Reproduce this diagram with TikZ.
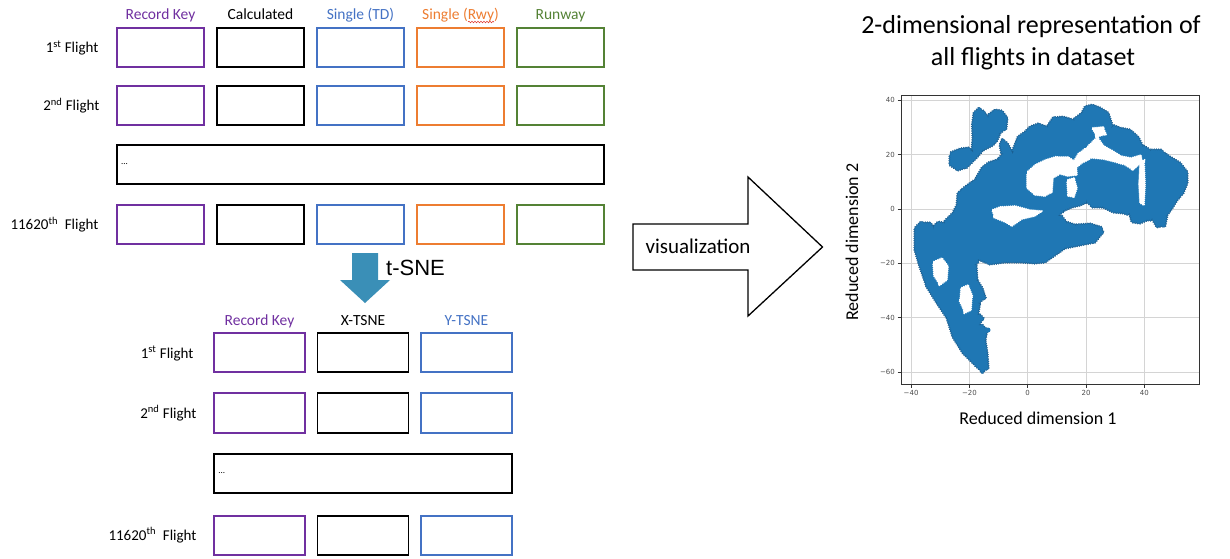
\documentclass[tikz,border=0pt]{standalone}
\usepackage{fontspec}
\setmainfont{Carlito}
\newfontfamily\tsnefont{Liberation Sans}
\newfontfamily\tickfont{DejaVu Sans}
\usepackage{tikz}
\usetikzlibrary{positioning, decorations.pathmorphing}
\definecolor{keypurple}{HTML}{7030A0}
\definecolor{tdblue}{HTML}{4472C4}
\definecolor{rwyorange}{HTML}{ED7D31}
\definecolor{rwgreen}{HTML}{548235}
\definecolor{tsneblue}{HTML}{3A8FB7}
\definecolor{dotblue}{HTML}{1F77B4}
\definecolor{dotedge}{HTML}{1A5F92}
\definecolor{gridgray}{HTML}{D4D4D4}
\definecolor{spellred}{HTML}{E03C31}

\begin{document}
\begin{tikzpicture}[x=1pt, y=-1pt,
    cell/.style={rectangle, minimum width=87.5pt, minimum height=39.5pt, line width=1.6pt, inner sep=0pt},
    head/.style={anchor=base, font=\fontsize{15.5}{18}\selectfont, inner sep=1pt},
    rowlab/.style={anchor=base east, font=\fontsize{15}{18}\selectfont},
    ellip/.style={font=\fontsize{9}{10}\selectfont, inner sep=0pt},
    ticklab/.style={font=\tickfont\fontsize{7}{8}\selectfont, text=black!70, inner sep=1pt},
    axlab/.style={font=\fontsize{18}{21}\selectfont, inner sep=0pt},
    titletxt/.style={anchor=base, font=\fontsize{26}{31}\selectfont, inner sep=0pt},
    blob/.style={fill=dotblue, draw=dotedge, line width=0.5pt, decorate,
        decoration={bumps, segment length=4.5pt, amplitude=1.3pt}},
    hole/.style={fill=white, decorate, decoration={bumps, segment length=4pt, amplitude=1pt}},
    gridline/.style={gridgray, line width=0.9pt}
]
\useasboundingbox (0,0) rectangle (1230,558);

% full feature table
\foreach \c/\col/\txt [count=\i from 0] in {rk/keypurple/Record Key, calc/black/Calculated, td/tdblue/Single (TD),
    rwy/rwyorange/Single (Rwy), run/rwgreen/Runway} {
  \node[head, text=\col] (th\c) at ({160.5+100*\i}, 19) {\txt};
  \foreach \r/\y in {a/47.5, b/105.5, n/224.5}
    \node[cell, draw=\col] (t\r\c) at ({160.5+100*\i}, \y) {};
}
% spell-check squiggle under Rwy
\draw[spellred, line width=0.6pt, decorate, decoration={snake, amplitude=0.8pt, segment length=3pt}]
    ([xshift=-32pt, yshift=-3pt]thrwy.base east) -- ([xshift=-6pt, yshift=-3pt]thrwy.base east);
\node[cell, draw=black, minimum width=487.5pt] (tdots) at (360.5, 164.5) {};
\node[ellip, right=5pt of tdots.west] (tdotstxt) {...};

\node[rowlab] (tla) at (102, 52.5) {1\textsuperscript{st} Flight};
\node[rowlab] (tlb) at (103, 110.5) {2\textsuperscript{nd} Flight};
\node[rowlab] (tln) at (102, 229.5) {11620\textsuperscript{th}~ Flight};

% t-SNE step
\fill[tsneblue] (352,253) -- (378,253) -- (378,280) -- (390,280) -- (365,303) -- (340,280) -- (352,280) -- cycle;
\node[anchor=west, font=\tsnefont\fontsize{22}{24}\selectfont, inner sep=0pt] (tsne) at (386,268) {t-SNE};

% reduced table
\foreach \c/\col/\txt [count=\i from 0] in {rk/keypurple/Record Key, x/black/X-TSNE, y/tdblue/Y-TSNE} {
  \node[head, text=\col] (bh\c) at ({259.5+103.5*\i}, 325) {\txt};
  \foreach \r/\y in {a/352.5, b/413, n/535.5}
    \node[cell, draw=\col, minimum width=91pt] (b\r\c) at ({259.5+103.5*\i}, \y) {};
}
\node[cell, draw=black, minimum width=298pt] (bdots) at (363, 473.5) {};
\node[ellip, right=5pt of bdots.west] (bdotstxt) {...};

\node[rowlab] (bla) at (197, 358) {1\textsuperscript{st} Flight};
\node[rowlab] (blb) at (200, 418) {2\textsuperscript{nd} Flight};
\node[rowlab] (bln) at (200, 540) {11620\textsuperscript{th}~ Flight};

% visualization arrow
\draw[line width=1.3pt, line join=miter] (633,224) -- (748,224) -- (748,177) -- (822.5,247)
    -- (748,316) -- (748,270) -- (633,270) -- cycle;
\node[anchor=base, font=\fontsize{21}{24}\selectfont, inner sep=0pt] (viz) at (698,253) {visualization};

% title
\node[titletxt] (title1) at (1031,33) {2-dimensional representation of};
\node[titletxt] (title2) at (1033,65) {all flights in dataset};

% scatter plot
\foreach \u in {-40,-20,...,40}
  \draw[gridline] ({1027.7+2.915*\u},95) -- ({1027.7+2.915*\u},384);
\foreach \v in {40,20,...,-60}
  \draw[gridline] (901,{209-2.716*\v}) -- (1199,{209-2.716*\v});

\path[blob] (950,153) -- (960,149) -- (968,148) -- (972,151) -- (973,138) -- (972.5,125) -- (974,113)
    -- (978,109) -- (983,111) -- (987,116) -- (995,110) -- (1002,111) -- (1007,118) -- (1006,128)
    -- (1000,133) -- (997,140) -- (993,145) -- (983,150) -- (977,157) -- (972,162) -- (967,167)
    -- (958,170) -- (950,165) -- cycle;
\path[blob] (915,228) -- (920,223) -- (930,223) -- (933,227) -- (938,222) -- (943,223) -- (953,213)
    -- (957,205) -- (958,193) -- (965,187) -- (975,180) -- (982,168) -- (988,163) -- (997,160)
    -- (1002,155) -- (1000,145) -- (1002,140) -- (1007,143) -- (1012,152) -- (1015,145) -- (1018,137)
    -- (1025,132) -- (1030,127) -- (1038,124) -- (1047,127) -- (1053,118) -- (1063,117) -- (1073,120)
    -- (1082,113) -- (1085,107) -- (1092,105) -- (1100,108) -- (1108,113) -- (1112,125) -- (1120,128)
    -- (1130,130) -- (1138,137) -- (1142,145) -- (1150,150) -- (1160,150) -- (1170,157) -- (1180,163)
    -- (1187,172) -- (1187,183) -- (1183,193) -- (1177,200) -- (1172,208) -- (1167,215) -- (1165,225)
    -- (1157,227) -- (1153,220) -- (1147,220) -- (1140,223) -- (1132,222) -- (1130,215) -- (1123,213)
    -- (1113,212) -- (1103,207) -- (1093,207) -- (1087,202) -- (1080,205) -- (1072,207) -- (1065,210)
    -- (1060,214) -- (1066,222) -- (1075,225) -- (1090,224) -- (1100,227) -- (1103,232) -- (1095,242)
    -- (1080,245) -- (1065,248) -- (1055,255) -- (1045,262) -- (1035,263) -- (1020,262) -- (1005,262)
    -- (990,264) -- (980,260) -- (976,264) -- (977,280) -- (982,288) -- (985,297) -- (980,302)
    -- (978,313) -- (983,318) -- (980,323) -- (987,330) -- (985,340) -- (987,353) -- (988,367)
    -- (983,372) -- (977,367) -- (963,353) -- (953,337) -- (947,318) -- (937,303) -- (927,287)
    -- (920,267) -- (915,250) -- cycle;
\fill[dotblue] (988,330) circle (2.5pt);
% gaps in the cloud
\path[hole] (1027,172) -- (1035,165) -- (1045,160) -- (1055,157) -- (1068,157) -- (1076,162) -- (1077,175)
    -- (1068,176) -- (1060,174) -- (1053,178) -- (1052,192) -- (1045,196) -- (1035,195) -- (1027,188) -- cycle;
\path[hole] (1067,180) -- (1074,178) -- (1077,188) -- (1074,197) -- (1068,196) -- cycle;
\path[hole] (992,210) -- (1000,207) -- (1015,206) -- (1030,210) -- (1042,211) -- (1035,216) -- (1022,219)
    -- (1012,226) -- (1005,222) -- (995,218) -- cycle;
\path[hole] (1087,147) -- (1097,137) -- (1104,146) -- (1113,151) -- (1121,156) -- (1131,158) -- (1141,155)
    -- (1142,162) -- (1133,170) -- (1125,165) -- (1115,162) -- (1103,159) -- (1092,158) -- (1082,163)
    -- (1076,168) -- (1072,164) -- (1078,154) -- cycle;
\path[hole] (1140,162) -- (1144,160) -- (1145,185) -- (1144,205) -- (1140,203) -- (1139,185) -- cycle;
\path[hole] (1092,128) -- (1103,127) -- (1106,134) -- (1097,137) -- cycle;
\path[hole] (933,262) -- (942,258) -- (948,266) -- (947,280) -- (940,285) -- (934,276) -- cycle;
\path[hole] (961,288) -- (968,285) -- (972,295) -- (971,310) -- (965,313) -- (960,302) -- cycle;

\draw[black!80, line width=0.8pt] (901,95) rectangle (1199,384);
\foreach \u/\t in {-40/−40, -20/−20, 0/0, 20/20, 40/40} {
  \draw[black!80, line width=0.6pt] ({1027.7+2.915*\u},384) -- ({1027.7+2.915*\u},387.5);
  \node[ticklab, anchor=north] (xt\u) at ({1027.7+2.915*\u},389) {\t};
}
\foreach \v/\t in {40/40, 20/20, 0/0, -20/−20, -40/−40, -60/−60} {
  \draw[black!80, line width=0.6pt] (897.5,{209-2.716*\v}) -- (901,{209-2.716*\v});
  \node[ticklab, anchor=east] (yt\v) at (896,{209-2.716*\v}) {\t};
}
\node[axlab] (xlab) at (1038,418) {Reduced dimension 1};
\node[axlab, rotate=90] (ylab) at (852,242) {Reduced dimension 2};
\end{tikzpicture}
\end{document}
